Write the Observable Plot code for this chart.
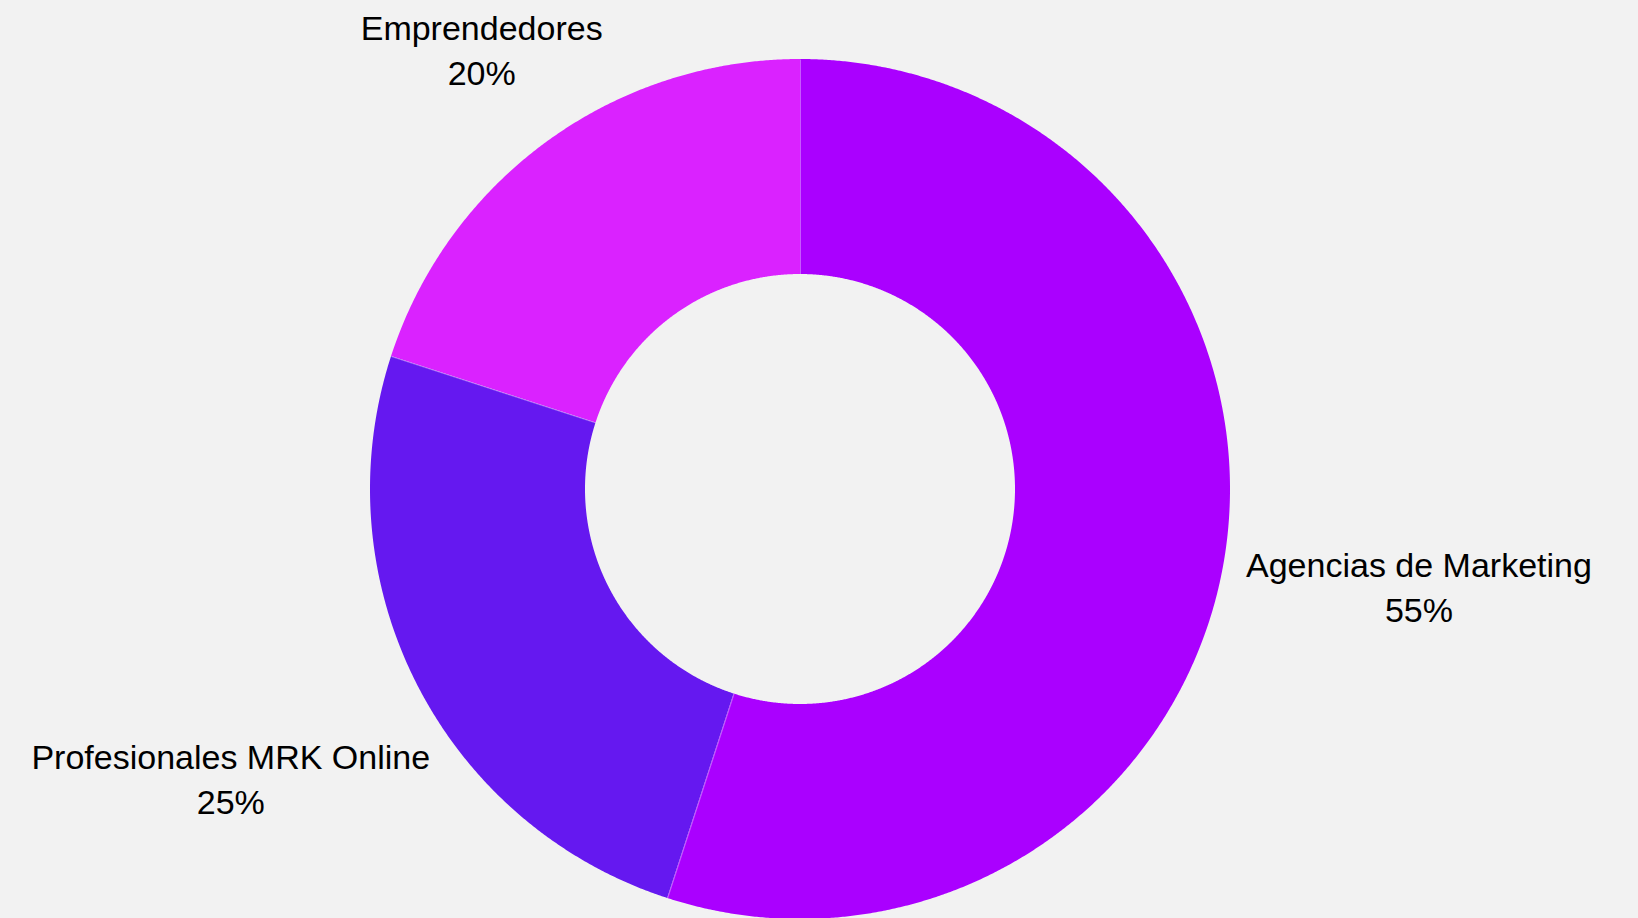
<!DOCTYPE html>
<html>
<head>
<meta charset="utf-8">
<script src="https://cdn.jsdelivr.net/npm/d3@7"></script>
<script src="https://cdn.jsdelivr.net/npm/@observablehq/plot@0.6"></script>
<style>
  html, body { margin: 0; padding: 0; background: #f2f2f2; overflow: hidden; }
  #chart svg { display: block; }
</style>
</head>
<body>
<div id="chart"></div>
<script>
// ---- data ----
const categories = ["Agencias de Marketing", "Profesionales MRK Online", "Emprendedores"];
const values = [55, 25, 20];
const percentLabels = ["55%", "25%", "20%"];
const sliceColors = ["#AA00FF", "#6518F0", "#DA22FF"];

// ---- layout ----
const W = 1638, H = 918;
const CX = 800, CY = 489, R = 430;      // pie centre and outer radius (px)
const INNER = 0.5;                      // inner radius as fraction of outer
const LABEL_RADIUS = 450;               // nearest corner of a label box sits on this circle (px)
const FONT_SIZE = 34, LINE_GAP = 45;
const FONT = "'Liberation Sans', Arial, sans-serif";
const CAP = 0.716 * FONT_SIZE;

const total = d3.sum(values);
let acc = 0;
const slices = categories.map((c, i) => {
  const a0 = acc / total * 2 * Math.PI;
  acc += values[i];
  const a1 = acc / total * 2 * Math.PI;
  return {category: c, value: values[i], label: percentLabels[i], a0, a1, mid: (a0 + a1) / 2};
});

// ring polygons sampled along arcs (data units: outer radius = 1, angles clockwise from top)
const ring = slices.flatMap(s => {
  const n = Math.max(2, Math.ceil((s.a1 - s.a0) / (Math.PI / 720)));
  return d3.range(n + 1).map(k => {
    const t = s.a0 + (s.a1 - s.a0) * k / n;
    return {category: s.category, ox: Math.sin(t), oy: Math.cos(t), ix: INNER * Math.sin(t), iy: INNER * Math.cos(t)};
  });
});

const seps = slices.map(s => ({
  x1: INNER * Math.sin(s.a0), y1: INNER * Math.cos(s.a0),
  x2: Math.sin(s.a0), y2: Math.cos(s.a0)
}));

// label placement: box centred on the mid-angle ray, pushed out until it clears the label circle
const ctx = document.createElement("canvas").getContext("2d");
ctx.font = `${FONT_SIZE}px 'Liberation Sans', Arial, sans-serif`;
const labelData = slices.map(s => {
  const ux = Math.sin(s.mid), uy = -Math.cos(s.mid);
  const w = Math.max(ctx.measureText(s.category).width, ctx.measureText(s.label).width);
  const h = CAP + LINE_GAP;
  const cx = -Math.sign(ux) * w / 2, cy = -Math.sign(uy) * h / 2;
  const b = ux * cx + uy * cy;
  const d = -b + Math.sqrt(b * b - (cx * cx + cy * cy) + LABEL_RADIUS * LABEL_RADIUS);
  const px = CX + d * ux, py = CY + d * uy;
  const base1 = py - h / 2 + CAP, base2 = py + h / 2;
  return {
    category: s.category, label: s.label,
    x: (px - CX) / R,
    y1: (CY - base1) / R,
    y2: (CY - base2) / R
  };
});

const chart = Plot.plot({
  width: W,
  height: H,
  marginTop: 0, marginRight: 0, marginBottom: 0, marginLeft: 0,
  x: {domain: [-CX / R, (W - CX) / R], axis: null},
  y: {domain: [-(H - CY) / R, CY / R], axis: null},
  color: {domain: categories, range: sliceColors},
  style: {background: "#f2f2f2", overflow: "hidden"},
  marks: [
    Plot.area(ring, {x1: "ox", y1: "oy", x2: "ix", y2: "iy", fill: "category", z: "category"}),
    Plot.link(seps, {x1: "x1", y1: "y1", x2: "x2", y2: "y2", stroke: "white", strokeOpacity: 0.35, strokeWidth: 1}),
    Plot.text(labelData, {x: "x", y: "y1", text: "category", lineAnchor: "bottom", textAnchor: "middle",
      fontSize: FONT_SIZE, fontFamily: FONT, fill: "black"}),
    Plot.text(labelData, {x: "x", y: "y2", text: "label", lineAnchor: "bottom", textAnchor: "middle",
      fontSize: FONT_SIZE, fontFamily: FONT, fill: "black"})
  ]
});
document.getElementById("chart").appendChild(chart);
</script>
</body>
</html>
